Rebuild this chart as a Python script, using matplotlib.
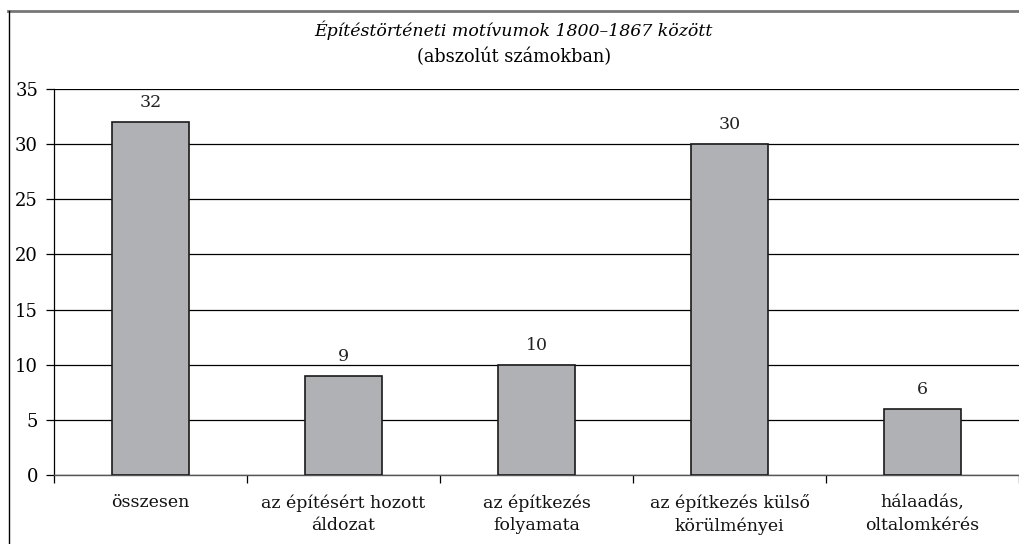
import matplotlib.pyplot as plt
from matplotlib.lines import Line2D

# --- data ---
categories = ['összesen', 'az építésért hozott\náldozat', 'az építkezés\nfolyamata',
              'az építkezés külső\nkörülményei', 'hálaadás,\noltalomkérés']
values = [32, 9, 10, 30, 6]
y_ticks = [0, 5, 10, 15, 20, 25, 30, 35]
title = 'Építéstörténeti motívumok 1800–1867 között'
subtitle = '(abszolút számokban)'

plt.rcParams['font.family'] = ['DejaVu Serif']

fig = plt.figure(figsize=(10.19, 5.44), dpi=100)
ax = fig.add_axes([54 / 1019, 1 - 475 / 544, (1019 - 54) / 1019, (475 - 89) / 544])

x = list(range(len(categories)))
bars = ax.bar(x, values, width=0.4, color='#b0b1b5', edgecolor='#1a1a1a', linewidth=1.2, zorder=3)
for xi, v in zip(x, values):
    ax.annotate(str(v), (xi, v), xytext=(0, 8), textcoords='offset points',
                ha='center', va='bottom', fontsize=12.5, color='#222222')

ax.set_xlim(-0.5, len(categories) - 0.5)
ax.set_ylim(0, 35)
ax.set_yticks(y_ticks)
ax.set_yticklabels([str(t) for t in y_ticks], fontsize=13)
ax.yaxis.grid(True, color='black', linewidth=0.9, zorder=0)
ax.tick_params(axis='y', length=6, width=0.9, pad=5.5, color='black')

# category labels between boundary ticks
ax.set_xticks([i - 0.5 for i in range(len(categories) + 1)])
ax.set_xticklabels([])
ax.tick_params(axis='x', length=6, width=0.9, direction='out', color='black')
for xi, lab in zip(x, categories):
    ax.text(xi, -0.05, lab, transform=ax.get_xaxis_transform(), ha='center', va='top',
            fontsize=12.5, linespacing=1.42, color='#111111')

for side in ['top', 'right']:
    ax.spines[side].set_visible(False)
ax.spines['left'].set_linewidth(0.9)
ax.spines['bottom'].set_linewidth(1.0)
ax.spines['bottom'].set_color('#555555')

fig.text(513 / 1019, 1 - 30 / 544, title, ha='center', va='center', fontsize=12.5, style='italic')
fig.text(514 / 1019, 1 - 57 / 544, subtitle, ha='center', va='center', fontsize=12.8)

# outer frame (top and left edges of the original chart box)
fig.add_artist(Line2D([8 / 1019, 1], [1 - 11 / 544, 1 - 11 / 544], transform=fig.transFigure,
                      color='#777777', linewidth=2))
fig.add_artist(Line2D([9 / 1019, 9 / 1019], [0, 1 - 11 / 544], transform=fig.transFigure,
                      color='black', linewidth=1))

fig.savefig('out.png', dpi=100)
